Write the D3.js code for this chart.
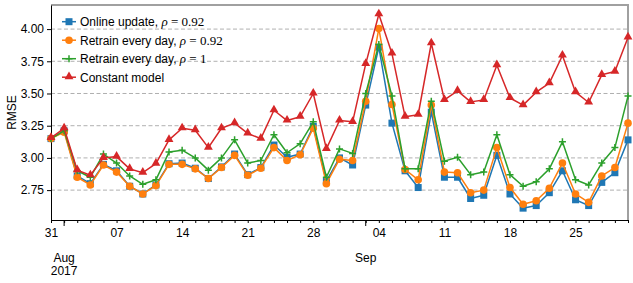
<html>
<head>
<script src="https://cdn.jsdelivr.net/npm/d3@7/dist/d3.min.js"></script>
<style>
  body { margin: 0; background: #fff; }
  text { font-family: "Liberation Sans", Arial, sans-serif; }
</style>
</head>
<body>
<svg width="633" height="283" id="chart"></svg>
<script>
  // business days, Jul 31 - Sep 29 2017
  var dates = d3.timeDay.range(new Date(2017, 6, 31), new Date(2017, 8, 30))
    .filter(function (d) { return d.getDay() !== 0 && d.getDay() !== 6; });

  var online = [3.15, 3.21, 2.86, 2.80, 2.95, 2.90, 2.78, 2.72, 2.79, 2.955, 2.96, 2.92, 2.84, 2.93, 3.03,
    2.87, 2.925, 3.10, 3.005, 3.03, 3.245, 2.82, 3.00, 2.945, 3.41, 3.86, 3.27, 2.90, 2.77, 3.355,
    2.85, 2.85, 2.685, 2.71, 3.02, 2.72, 2.61, 2.63, 2.73, 2.90, 2.675, 2.63, 2.81, 2.885, 3.14];
  var retrain092 = [3.15, 3.20, 2.85, 2.79, 2.945, 2.89, 2.78, 2.72, 2.785, 2.95, 2.95, 2.915, 2.84, 2.925, 3.02,
    2.865, 2.92, 3.08, 2.98, 3.025, 3.23, 2.80, 2.99, 2.98, 3.44, 4.005, 3.415, 2.91, 2.83, 3.41,
    2.89, 2.885, 2.73, 2.75, 3.08, 2.77, 2.64, 2.667, 2.765, 2.96, 2.72, 2.655, 2.86, 2.925, 3.27];
  var retrain1 = [3.15, 3.21, 2.90, 2.85, 3.03, 2.96, 2.86, 2.795, 2.83, 3.045, 3.06, 3.00, 2.905, 3.00, 3.14,
    2.96, 2.98, 3.18, 3.04, 3.11, 3.28, 2.85, 3.07, 3.035, 3.50, 3.88, 3.48, 2.915, 2.915, 3.44,
    2.975, 3.005, 2.87, 2.89, 3.18, 2.87, 2.78, 2.815, 2.915, 3.125, 2.83, 2.79, 2.96, 3.08, 3.48];
  var constant = [3.155, 3.23, 2.905, 2.865, 3.00, 3.01, 2.915, 2.885, 2.955, 3.14, 3.23, 3.215, 3.08, 3.23, 3.27,
    3.19, 3.15, 3.37, 3.29, 3.32, 3.50, 3.07, 3.29, 3.28, 3.73, 4.115, 3.81, 3.32, 3.335, 3.89,
    3.45, 3.52, 3.435, 3.45, 3.72, 3.465, 3.41, 3.51, 3.58, 3.795, 3.51, 3.43, 3.645, 3.67, 3.935];

  var yTicks = [2.75, 3.00, 3.25, 3.50, 3.75, 4.00];

  var series = [
    {name: "Online update, ", rho: "0.92", values: online, color: "#1f77b4", marker: "square"},
    {name: "Retrain every day, ", rho: "0.92", values: retrain092, color: "#ff7f0e", marker: "circle"},
    {name: "Retrain every day, ", rho: "1", values: retrain1, color: "#2ca02c", marker: "plus"},
    {name: "Constant model", rho: null, values: constant, color: "#d62728", marker: "triangle"}
  ];

  var svg = d3.select("#chart"),
    m = {left: 51, right: 628, top: 5, bottom: 220};

  var x = d3.scaleLinear().domain([0, dates.length - 1]).range([m.left, m.right]);
  var y = d3.scaleLinear().domain([2.518, 4.187]).range([m.bottom, m.top]);

  // grid
  svg.append("g").selectAll("line").data(yTicks).enter().append("line")
    .attr("x1", m.left).attr("x2", m.right)
    .attr("y1", function (d) { return y(d); }).attr("y2", function (d) { return y(d); })
    .attr("stroke", "#b0b0b0").attr("stroke-width", 1).attr("stroke-dasharray", "4,2.5");

  // frame top / right
  svg.append("line").attr("x1", m.left).attr("x2", m.right + 1).attr("y1", m.top).attr("y2", m.top)
    .attr("stroke", "#a0a0a0").attr("stroke-width", 2);
  svg.append("line").attr("x1", m.right).attr("x2", m.right).attr("y1", m.top).attr("y2", m.bottom)
    .attr("stroke", "#a0a0a0").attr("stroke-width", 2);

  // y axis
  var yAxis = svg.append("g").attr("transform", "translate(" + m.left + ",0)")
    .call(d3.axisLeft(y).tickValues(yTicks).tickFormat(d3.format(".2f")).tickSize(4).tickSizeOuter(0).tickPadding(3));
  yAxis.selectAll("text").attr("font-size", 12).attr("font-family", "Liberation Sans, Arial, sans-serif").attr("fill", "#000");

  // x axis, one tick per business day, labels on mondays
  var fmtDay = d3.timeFormat("%d");
  var xAxis = svg.append("g").attr("transform", "translate(0," + m.bottom + ")")
    .call(d3.axisBottom(x).tickValues(d3.range(dates.length)).tickSize(3).tickSizeOuter(0).tickPadding(5)
      .tickFormat(function (i) { return dates[i].getDay() === 1 ? fmtDay(dates[i]) : ""; }));
  xAxis.selectAll("text").attr("font-size", 12).attr("font-family", "Liberation Sans, Arial, sans-serif").attr("fill", "#000");
  svg.selectAll(".domain").attr("stroke", "#000");

  // month ticks + labels (first business day of each month after the start)
  var monthIdx = d3.range(1, dates.length).filter(function (i) {
    return dates[i].getMonth() !== dates[i - 1].getMonth() || i === 1;
  });
  monthIdx.forEach(function (i, k) {
    svg.append("line").attr("x1", x(i)).attr("x2", x(i)).attr("y1", m.bottom).attr("y2", m.bottom + 6)
      .attr("stroke", "#000").attr("stroke-width", 1);
    svg.append("text").attr("x", x(i)).attr("y", 262).attr("text-anchor", "middle").attr("font-size", 12)
      .text(d3.timeFormat("%b")(dates[i]));
    if (k === 0) {
      svg.append("text").attr("x", x(i)).attr("y", 275).attr("text-anchor", "middle").attr("font-size", 12)
        .text(dates[i].getFullYear());
    }
  });

  svg.append("text").attr("transform", "translate(12," + (m.top + m.bottom) / 2 + ") rotate(-90)")
    .attr("text-anchor", "middle").attr("dominant-baseline", "central").attr("font-size", 12).text("RMSE");

  function drawMarker(g, type, color, cx, cy) {
    if (type === "square") {
      g.append("rect").attr("x", cx - 3.5).attr("y", cy - 3.5).attr("width", 7).attr("height", 7).attr("fill", color);
    } else if (type === "circle") {
      g.append("circle").attr("cx", cx).attr("cy", cy).attr("r", 3.8).attr("fill", color);
    } else if (type === "plus") {
      g.append("path").attr("d", "M" + (cx - 3.5) + "," + cy + "h7M" + cx + "," + (cy - 3.5) + "v7")
        .attr("stroke", color).attr("stroke-width", 1.5).attr("fill", "none");
    } else {
      g.append("path").attr("d", d3.symbol().type(d3.symbolTriangle).size(34)())
        .attr("transform", "translate(" + cx + "," + (cy - 0.5) + ")").attr("fill", color);
    }
  }

  var line = d3.line().x(function (d, i) { return x(i); }).y(function (d) { return y(d); });

  series.forEach(function (s) {
    var g = svg.append("g");
    g.append("path").datum(s.values).attr("d", line).attr("fill", "none")
      .attr("stroke", s.color).attr("stroke-width", 1.5).attr("stroke-linejoin", "round");
    s.values.forEach(function (v, i) { drawMarker(g, s.marker, s.color, x(i), y(v)); });
  });

  // legend
  var legend = svg.append("g");
  series.forEach(function (s, k) {
    var cy = 21.7 + k * 18.5;
    legend.append("line").attr("x1", 62).attr("x2", 76).attr("y1", cy).attr("y2", cy)
      .attr("stroke", s.color).attr("stroke-width", 1.5);
    drawMarker(legend, s.marker, s.color, 69, cy);
    var t = legend.append("text").attr("x", 80).attr("y", cy + 4.3).attr("font-size", 12).text(s.name);
    if (s.rho) {
      t.append("tspan").attr("font-family", "Liberation Serif, serif").attr("font-style", "italic").attr("font-size", 13).text("ρ");
      t.append("tspan").attr("font-family", "Liberation Serif, serif").attr("font-size", 13).text(" = " + s.rho);
    }
  });
</script>
</body>
</html>
